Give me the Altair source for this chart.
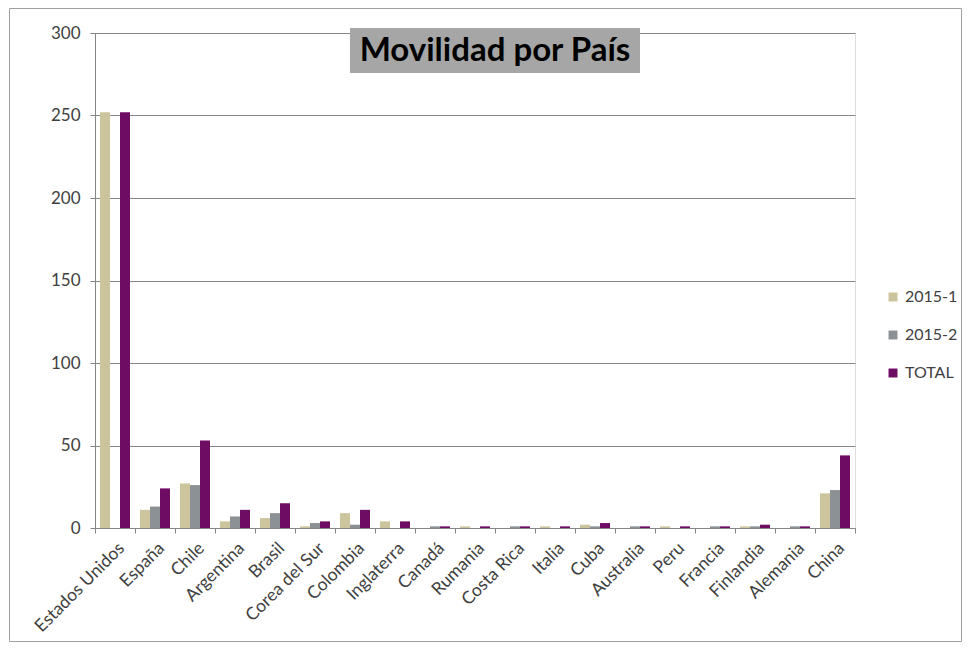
import altair as alt
import pandas as pd

paises = ["Estados Unidos", "España", "Chile", "Argentina", "Brasil", "Corea del Sur",
          "Colombia", "Inglaterra", "Canadá", "Rumania", "Costa Rica", "Italia", "Cuba",
          "Australia", "Peru", "Francia", "Finlandia", "Alemania", "China"]
s2015_1 = [252, 11, 27, 4, 6, 1, 9, 4, 0, 1, 0, 1, 2, 0, 1, 0, 1, 0, 21]
s2015_2 = [0, 13, 26, 7, 9, 3, 2, 0, 1, 0, 1, 0, 1, 1, 0, 1, 1, 1, 23]
total = [252, 24, 53, 11, 15, 4, 11, 4, 1, 1, 1, 1, 3, 1, 1, 1, 2, 1, 44]
series = ["2015-1", "2015-2", "TOTAL"]
colores = ["#CBC49C", "#8C9196", "#6E0B62"]
titulo = "Movilidad por País"
y_ticks = [0, 50, 100, 150, 200, 250, 300]

rows = []
for i, p in enumerate(paises):
    for s, vals in zip(series, [s2015_1, s2015_2, total]):
        rows.append({"Pais": p, "Serie": s, "Valor": vals[i]})
df = pd.DataFrame(rows)

FONT = "Lato"

bars = alt.Chart(df).mark_bar().encode(
    x=alt.X("Pais:N", sort=paises,
            scale=alt.Scale(paddingInner=0, paddingOuter=0),
            axis=alt.Axis(title=None, labelAngle=-45, labelAlign="right",
                          labelBaseline="top", tickBand="extent", tickSize=5,
                          tickColor="#868686", domainColor="#868686",
                          labelFontSize=17.5, labelColor="#404040", labelFont=FONT,
                          labelPadding=6, grid=False)),
    xOffset=alt.XOffset("Serie:N", sort=series,
                        scale=alt.Scale(paddingInner=0, paddingOuter=0.5)),
    y=alt.Y("Valor:Q", scale=alt.Scale(domain=[0, 300], nice=False),
            axis=alt.Axis(title=None, values=y_ticks, tickSize=5,
                          tickColor="#868686", domainColor="#868686",
                          gridColor="#868686", labelFontSize=17,
                          labelColor="#404040", labelFont=FONT, labelPadding=10)),
    color=alt.Color("Serie:N", sort=series,
                    scale=alt.Scale(domain=series, range=colores),
                    legend=alt.Legend(title=None, orient="none", legendX=790,
                                      legendY=256, symbolType="square",
                                      symbolSize=80, labelFontSize=16,
                                      labelFont=FONT, labelColor="#404040",
                                      rowPadding=22, symbolStrokeWidth=0)),
)

tdf = pd.DataFrame({"t": [titulo]})
title_box = alt.Chart(tdf).mark_rect(color="#A6A6A6").encode(
    x=alt.value(255), x2=alt.value(545), y=alt.value(-5), y2=alt.value(40)
)
title_text = alt.Chart(tdf).mark_text(
    font=FONT, fontSize=33, fontWeight="bold", color="#000000",
    align="center", baseline="middle"
).encode(x=alt.value(400), y=alt.value(18), text="t:N")

frame = alt.Chart(tdf).mark_rect(fill="transparent", stroke="#A0A0A0",
                                 strokeWidth=1).encode(
    x=alt.value(-85.5), x2=alt.value(866.5), y=alt.value(-24.5), y2=alt.value(608.5)
)

chart = alt.layer(frame, bars, title_box, title_text).properties(
    width=760, height=495,
    autosize=alt.AutoSizeParams(type="none"),
    padding={"left": 87, "top": 25, "right": 108, "bottom": 115},
).configure_view(stroke=None).configure(background="white")

chart.save("out.html", embed_options={"renderer": "svg", "actions": False})
